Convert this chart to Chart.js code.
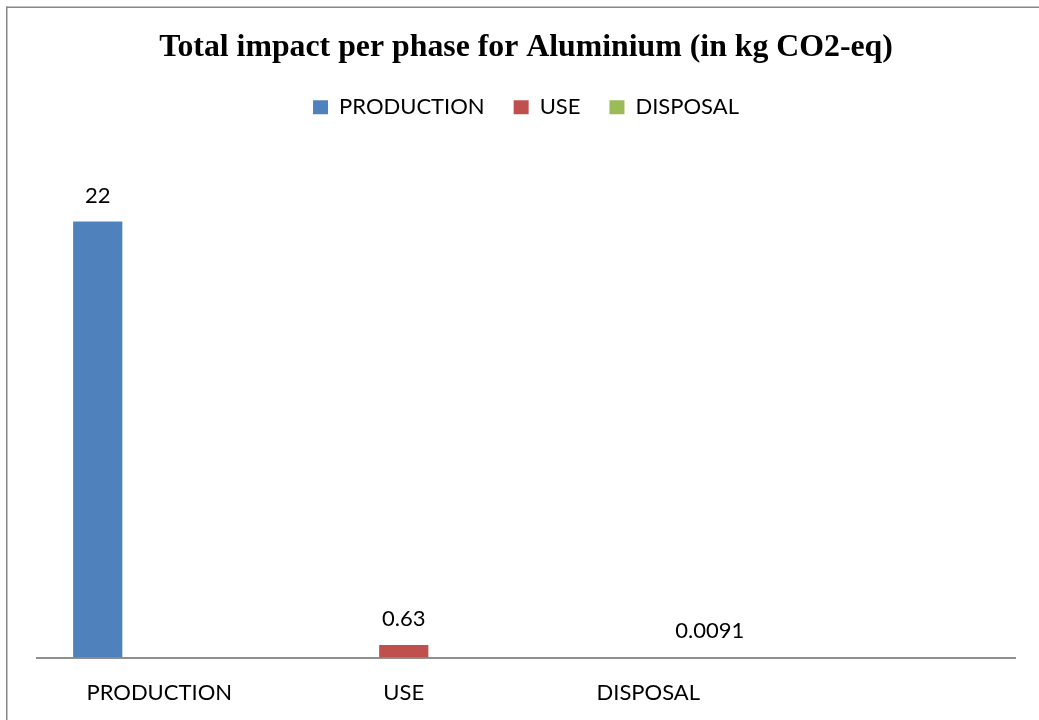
<!DOCTYPE html>
<html>
<head>
<meta charset="utf-8">
<title>Total impact per phase for Aluminium</title>
<script src="https://cdn.jsdelivr.net/npm/chart.js@4.4.1/dist/chart.umd.min.js"></script>
<style>
  html, body { margin: 0; padding: 0; background: #ffffff; }
  #wrap { width: 1039px; height: 720px; position: relative; }
</style>
</head>
<body>
<div id="wrap"><canvas id="chart" width="1039" height="720"></canvas></div>
<script>
// Phases on the category axis (the last slot is left empty)
const categories = ['PRODUCTION', 'USE', 'DISPOSAL', ''];

// Impact per phase, kg CO2-eq
const productionValues = [22, null, null, null];
const useValues = [null, 0.63, null, null];
const disposalValues = [null, null, 0.0091, null];

const seriesNames = ['PRODUCTION', 'USE', 'DISPOSAL'];
const seriesColors = ['#4F81BD', '#C0504D', '#9BBB59'];

const labelFont = { family: 'Lato', size: 22 };

// Outer frame of the chart (left and top edges)
const framePlugin = {
  id: 'frame',
  beforeDraw(chart) {
    const ctx = chart.ctx;
    ctx.save();
    ctx.fillStyle = '#ffffff';
    ctx.fillRect(0, 0, chart.width, chart.height);
    ctx.fillStyle = '#878787';
    ctx.fillRect(6, 6.5, chart.width - 6, 1.5);
    ctx.fillRect(6, 6.5, 1.5, chart.height - 6.5);
    ctx.restore();
  }
};

// Extra room between the legend and the plot area
const legendGapPlugin = {
  id: 'legendGap',
  beforeInit(chart) {
    const legend = chart.legend;
    if (!legend) return;
    const originalFit = legend.fit;
    legend.fit = function () {
      originalFit.call(this);
      this.height += 34;
    };
  }
};

// Value written above each bar
const valueLabelPlugin = {
  id: 'valueLabels',
  afterDatasetsDraw(chart) {
    const ctx = chart.ctx;
    ctx.save();
    ctx.font = `${labelFont.size}px ${labelFont.family}`;
    ctx.fillStyle = '#000000';
    ctx.textAlign = 'center';
    ctx.textBaseline = 'alphabetic';
    chart.data.datasets.forEach((ds, di) => {
      const meta = chart.getDatasetMeta(di);
      meta.data.forEach((el, i) => {
        const v = ds.data[i];
        if (v === null || v === undefined) return;
        ctx.fillText(String(v), el.x, el.y - 19);
      });
    });
    ctx.restore();
  }
};

new Chart(document.getElementById('chart'), {
  type: 'bar',
  data: {
    labels: categories,
    datasets: [
      { label: seriesNames[0], data: productionValues, backgroundColor: seriesColors[0] },
      { label: seriesNames[1], data: useValues, backgroundColor: seriesColors[1] },
      { label: seriesNames[2], data: disposalValues, backgroundColor: seriesColors[2] }
    ]
  },
  options: {
    responsive: false,
    animation: false,
    devicePixelRatio: 1,
    categoryPercentage: 0.755,
    barPercentage: 0.8,
    layout: { padding: { left: 37, right: 24, top: 0, bottom: 0 } },
    plugins: {
      title: {
        display: true,
        text: 'Total impact per phase for Aluminium (in kg CO2-eq)',
        color: '#000000',
        font: { family: 'Liberation Serif', size: 31.8, weight: 'bold' },
        padding: { top: 29, bottom: 0 }
      },
      legend: {
        display: true,
        position: 'top',
        labels: {
          color: '#000000',
          font: labelFont,
          boxWidth: 15,
          boxHeight: 14,
          padding: 29
        }
      },
      tooltip: { enabled: false }
    },
    scales: {
      x: {
        grid: { display: false },
        border: { display: true, color: '#8f8f8f', width: 2 },
        ticks: { color: '#000000', font: labelFont, padding: 14, maxRotation: 0 }
      },
      y: {
        display: false,
        min: 0,
        max: 25
      }
    }
  },
  plugins: [framePlugin, legendGapPlugin, valueLabelPlugin]
});
</script>
</body>
</html>
